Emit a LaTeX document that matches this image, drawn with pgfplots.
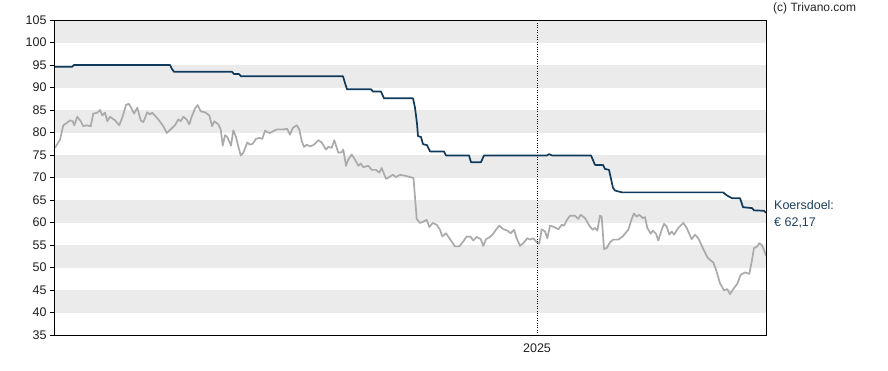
\documentclass[border=0pt]{standalone}
\usepackage{fontspec}
\setmainfont{Liberation Sans}
\usepackage{pgfplots}
\pgfplotsset{compat=1.18}
\definecolor{navy}{HTML}{0F3A5C}
\definecolor{pricegray}{HTML}{AAAAAA}
\definecolor{bandgray}{HTML}{EBEBEB}
\definecolor{labelnavy}{HTML}{1D3F5E}
\begin{document}
\begin{tikzpicture}
\begin{axis}[
  at={(0,0)}, anchor=south west,
  scale only axis, width=711pt, height=315pt,
  axis on top,
  xmin=55, xmax=766, ymin=35, ymax=105,
  ytick={35,40,...,105},
  ytick pos=left,
  xtick={537}, xticklabels={2025},
  xtick pos=bottom,
  xmajorgrids,
  grid style={black, dotted, line width=0.8pt},
  tick align=outside, major tick length=5pt,
  x tick style={draw=none},
  y tick style={black, line width=0.8pt},
  axis line style={black, line width=1pt},
  ticklabel style={font=\fontsize{12.5}{14}\selectfont, text=black!88},
  /pgf/number format/assume math mode=true,
  clip=true,
]
\fill[bandgray] (axis cs:55,100) rectangle (axis cs:766,105);
\fill[bandgray] (axis cs:55,90) rectangle (axis cs:766,95);
\fill[bandgray] (axis cs:55,80) rectangle (axis cs:766,85);
\fill[bandgray] (axis cs:55,70) rectangle (axis cs:766,75);
\fill[bandgray] (axis cs:55,60) rectangle (axis cs:766,65);
\fill[bandgray] (axis cs:55,50) rectangle (axis cs:766,55);
\fill[bandgray] (axis cs:55,40) rectangle (axis cs:766,45);
% price
\addplot[pricegray, line width=1.7pt, line join=round] coordinates {
(55,76.6)(60,78.4)(63.3,81.6)(66.7,82.1)(70,82.7)(72.7,82.5)(74.3,81.6)(77.3,83.5)(80.7,82.5)(83.3,81.4)
(86.7,81.6)(90.7,81.4)(93.3,84.2)(97.3,84.4)(100,85.0)(102.3,83.8)(105,84.4)(107.3,82.5)(110,83.5)(115,82.7)
(119.3,81.6)(122.7,83.6)(126,86.1)(128.7,86.4)(131.7,85.3)(134,84.2)(137.3,85.5)(140.7,82.7)(143.3,82.3)(147.3,84.5)
(150,84.0)(152.3,84.4)(158.3,82.9)(163.3,81.4)(166.7,79.9)(170.7,80.7)(175,81.6)(178.3,82.9)(180.7,82.5)(183.3,83.5)
(186.7,82.9)(189.3,81.8)(191.7,83.5)(195,85.3)(197.7,86.1)(200.7,84.7)(205,84.5)(209.3,83.8)(212,81.4)(214.3,82.5)
(218.3,81.8)(220.7,80.7)(222.7,77.1)(225,79.4)(227.3,79.0)(231,77.1)(233.3,80.5)(236,79.0)(238.3,76.9)(240.7,74.9)
(243.3,75.5)(247.3,77.8)(250,77.3)(252.7,77.5)(256,78.6)(259.3,78.8)(262.3,78.6)(265,80.4)(267.3,80.1)(270,79.9)
(274,80.4)(277.3,80.7)(283.3,80.7)(287.3,80.8)(290,79.5)(292.7,81.0)(296.7,81.6)(299.3,80.7)(301.7,78.1)(304,76.8)
(306.7,77.3)(310,76.9)(314,77.3)(318.3,78.3)(321.7,77.8)(326,76.2)(328.3,76.8)(331.7,76.6)(334.3,78.3)(338.3,75.5)
(341.7,75.6)(343.3,76.2)(346,72.6)(348.3,74.0)(351.7,75.1)(355,74.0)(358.3,72.6)(360.7,73.1)(363.3,72.3)(368.3,72.6)
(371.7,71.7)(376,71.7)(379.3,71.1)(381.7,72.1)(386,69.7)(389.3,70.1)(392.7,70.6)(396,70.1)(400,70.6)(405,70.4)
(410,70.1)(413.5,69.9)(416.7,60.8)(420,59.9)(423.3,60.2)(426.7,60.6)(429.3,59.0)(432.7,59.9)(436.7,59.5)(440,58.4)
(442.3,56.9)(446,57.6)(450,56.3)(455,54.7)(459.3,54.7)(463.3,55.8)(466.7,56.9)(470.7,56.8)(473.3,56.0)(476.7,56.8)
(480.7,56.3)(483.3,54.8)(486,56.3)(490,56.8)(493.3,57.5)(496,58.4)(499.3,59.3)(503.3,58.5)(507.3,58.2)(510.7,57.6)
(514,58.4)(516.7,56.5)(520,54.8)(523.3,55.4)(527.3,56.5)(530,56.2)(533.3,56.5)(536.7,55.6)(539.3,55.3)(541.7,58.5)
(545,58.0)(547.3,56.5)(550,59.3)(554,59.0)(558.3,58.5)(561.7,59.5)(564,59.3)(566.7,60.5)(570,61.5)(575,61.5)
(578.3,60.8)(580.7,61.7)(585,61.0)(589.3,59.3)(592.7,58.4)(595,58.8)(597.3,58.2)(600,61.5)(601.7,61.3)(604,54.1)
(606.7,54.3)(610,55.6)(613.3,56.2)(618.3,56.2)(622.7,56.9)(628.3,58.4)(631.7,60.8)(634,62.0)(636.7,61.3)(639.3,61.7)
(642.7,61.0)(645,61.2)(647.3,58.8)(650.7,57.5)(652.7,58.2)(656,57.5)(658.3,56.0)(661.7,58.4)(664,59.7)(666.7,59.1)
(669.3,57.3)(671.7,58.0)(674,57.3)(678.3,58.8)(683.3,59.9)(686.7,58.8)(691.7,56.3)(695,57.3)(698.3,56.5)(703.3,54.1)
(707.3,52.3)(710,51.7)(713.3,51.1)(716,49.5)(720,46.5)(724,44.9)(727.3,45.2)(730,44.1)(733.3,45.2)(737.3,46.4)
(740.7,48.4)(745,48.9)(749.3,48.6)(751.7,51.3)(754,54.3)(757.3,54.7)(759.3,55.4)(761.7,55.0)(764,53.9)(766,52.6)
};
% target price
\addplot[navy, line width=1.7pt, line join=round] coordinates {
(55,94.6)(72,94.6)(74,95.0)(170,95.0)(172,94.1)(174,93.5)(232,93.5)(234,93.0)(239,93.0)(241,92.5)
(343,92.5)(345,91.0)(347,89.6)(371,89.6)(373,89.1)(381,89.1)(384,87.6)(413,87.6)(415,85.5)(417,82.0)
(418,79.2)(421,79.0)(423,77.4)(427,77.2)(430,75.8)(444,75.8)(446,74.9)(469,74.9)(471,73.4)(481,73.4)
(484,74.9)(547,74.9)(549,75.2)(552,74.9)(591,74.9)(595,72.8)(603,72.8)(605,71.9)(609,71.7)(613,67.7)
(615,67.1)(622,66.7)(723,66.7)(727,66.0)(732,65.4)(740,65.4)(743,63.4)(752,63.2)(754,62.7)(764,62.6)(766,62.17)
};
\end{axis}
\node[anchor=base west, font=\fontsize{12}{14}\selectfont, text=black!85, inner sep=0pt] at (718pt,323pt) {(c) Trivano.com};
\node[anchor=base west, font=\fontsize{12.5}{14}\selectfont, text=labelnavy, inner sep=0pt] at (719pt,125.5pt) {Koersdoel:};
\node[anchor=base west, font=\fontsize{12.5}{14}\selectfont, text=labelnavy, inner sep=0pt] at (719pt,108.3pt) {€ 62,17};
\path (-55pt,-35pt) rectangle (833pt,335pt);
\end{tikzpicture}
\end{document}
